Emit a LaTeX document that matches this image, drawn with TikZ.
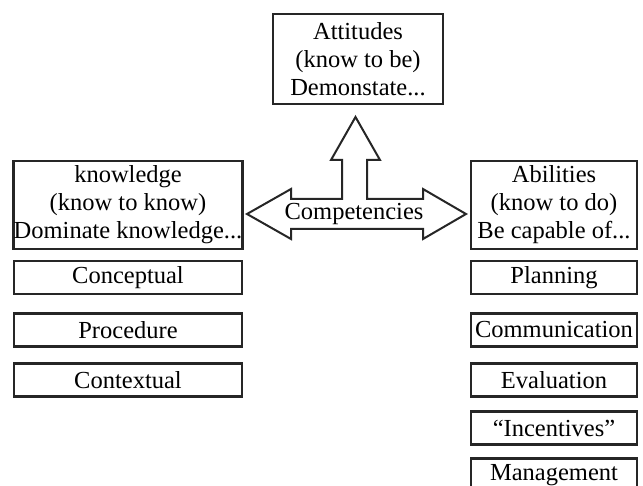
\documentclass[tikz,border=0pt]{standalone}
\usepackage{fontspec}
\setmainfont{Liberation Serif}
\usetikzlibrary{calc}

\begin{document}
\begin{tikzpicture}[x=1pt,y=-1pt,
  box/.style={draw=black!85,line width=2.4pt,fill=white,inner sep=0pt,align=center,
    font=\fontsize{24.5}{28}\selectfont},
  bigbox/.style={box,minimum height=88pt},
  leftbox/.style={box,minimum width=228pt,minimum height=33pt},
  rightbox/.style={box,minimum width=166pt,minimum height=33pt}]
\useasboundingbox (0,0) rectangle (643,486);
\clip (0,0) rectangle (643,486);
% arrows
\draw[line width=2pt,black!85,fill=white,line join=miter]
  (247,214) -- (291,189) -- (291,199) -- (342,199) -- (342,160) -- (331,160) --
  (355.5,117) -- (380,160) -- (367,160) -- (367,199) -- (423,199) -- (423,189) --
  (466,214) -- (423,239) -- (423,229) -- (291,229) -- (291,239) -- cycle;
\node[font=\fontsize{24.5}{28}\selectfont] (comp) at (354,214) {Competencies};
% top
\node[box,minimum width=170pt,minimum height=90pt] (attitudes) at (358,59)
  {Attitudes\\(know to be)\\Demonstate...};
% left column
\node[bigbox,minimum width=228pt] (knowledge) at (128,205)
  {knowledge\\(know to know)\\Dominate knowledge...};
\node[leftbox] (conceptual) at (128,277.5) {Conceptual};
\node[leftbox] (procedure) at (128,330) {Procedure};
\node[leftbox] (contextual) at (128,380) {Contextual};
% right column
\node[bigbox,minimum width=166pt] (abilities) at (554,205)
  {Abilities\\(know to do)\\Be capable of...};
\node[rightbox] (planning) at (554,277.5) {Planning};
\node[rightbox] (communication) at (554,330) {Communication};
\node[rightbox] (evaluation) at (554,380) {Evaluation};
\node[rightbox] (incentives) at (554,428) {``Incentives''};
\node[rightbox] (management) at (554,475) {Management};
\end{tikzpicture}
\end{document}
